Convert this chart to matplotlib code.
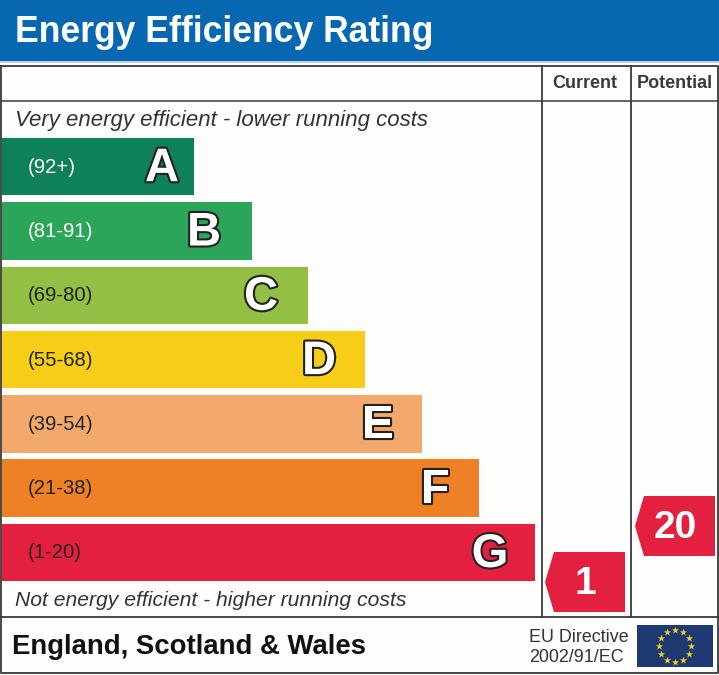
import numpy as np
import matplotlib
matplotlib.use("Agg")
import matplotlib.pyplot as plt
import matplotlib.patheffects as pe
from matplotlib.patches import Polygon, Rectangle

title = "Energy Efficiency Rating"
bands = ["A", "B", "C", "D", "E", "F", "G"]
ranges = ["(92+)", "(81-91)", "(69-80)", "(55-68)", "(39-54)", "(21-38)", "(1-20)"]
bar_lengths = [194, 252, 308, 365, 422, 479, 535]
bar_colors = ["#0f8158", "#2aa55a", "#93bf44", "#f6cd17", "#f3a96b", "#ee8126", "#e3203f"]
range_colors = ["white", "white", "#222222", "#222222", "#222222", "#222222", "#222222"]
letter_insets = [32, 48, 47, 46, 44, 44, 45]
current_score = 1
potential_score = 20

W, H = 719, 675
fig = plt.figure(figsize=(W / 100, H / 100), dpi=100, facecolor="#fdfdfc")
ax = fig.add_axes([0, 0, 1, 1])
ax.set_xlim(0, W)
ax.set_ylim(H, 0)
ax.axis("off")
FONT = "Liberation Sans"
DARK = "#3a3a3a"

# Header
ax.add_patch(Rectangle((0, 0), W, 61, fc="#0768b1", ec="none"))
ax.plot([0, W], [62, 62], color="#a9c8e2", lw=1.2)
ax.text(15, 32.5, title, color="white", fontsize=25.6, fontweight="bold", family=FONT,
        va="center", ha="left")

# Frame lines
ax.plot([0.5, 718, 718, 0.5, 0.5], [66, 66, 673, 673, 66], color=DARK, lw=1.3)
ax.plot([1, 718], [101, 101], color=DARK, lw=1.1)
ax.plot([1, 718], [617, 617], color=DARK, lw=1.3)
ax.plot([542, 542], [66, 617], color=DARK, lw=1.3)
ax.plot([631, 631], [66, 617], color=DARK, lw=1.3)

ax.text(585, 84, "Current", fontsize=13, fontweight="bold", family=FONT, color=DARK, ha="center", va="center")
ax.text(675, 84, "Potential", fontsize=13, fontweight="bold", family=FONT, color=DARK, ha="center", va="center")

ax.text(15, 120.5, "Very energy efficient - lower running costs", fontsize=16, style="italic",
        family=FONT, color="#333333", va="center", ha="left")
ax.text(15, 600.5, "Not energy efficient - higher running costs", fontsize=15.2, style="italic",
        family=FONT, color="#333333", va="center", ha="left")

# Bars
ys = 166.7 + 64.3 * np.arange(len(bands))
ax.barh(ys, np.array(bar_lengths) - 1.5, left=1.5, height=57.5, color=bar_colors, edgecolor="none")
for y, band, rng, rc, length, inset in zip(ys, bands, ranges, range_colors, bar_lengths, letter_insets):
    ax.text(28, y + 0.5, rng, color=rc, fontsize=14.6, family=FONT, va="center", ha="left")
    ax.text(length - inset, y + 2.5, band, color="white", fontsize=34, fontweight="bold", family=FONT,
            va="center", ha="center",
            path_effects=[pe.withStroke(linewidth=3, foreground="#222222")])

# Score arrows
def score_y(score):
    return 582 - (score - 1) * (56 / 19)

def arrow(x0, score):
    yc = score_y(score)
    pts = [(x0, yc), (x0 + 9, yc - 30), (x0 + 80, yc - 30), (x0 + 80, yc + 30), (x0 + 9, yc + 30)]
    ax.add_patch(Polygon(pts, closed=True, fc="#e3203f", ec="none"))
    ax.text(x0 + 40.5, yc + 2, str(score), color="white", fontsize=28, fontweight="bold", family=FONT,
            ha="center", va="center")

arrow(545, current_score)
arrow(635, potential_score)

# Footer
ax.text(12, 647, "England, Scotland & Wales", fontsize=19.8, fontweight="bold", family=FONT,
        color="#111111", va="center", ha="left")
ax.text(529, 637.5, "EU Directive", fontsize=12.85, family=FONT, color="#333333", va="center", ha="left")
ax.text(529, 658, "2002/91/EC", fontsize=12.85, family=FONT, color="#333333", va="center", ha="left")

# EU flag
ax.add_patch(Rectangle((637, 625), 76, 42, fc="#1f3a73", ec="none"))
a = np.deg2rad(np.arange(0, 360, 30))
ax.scatter(675 + 16 * np.sin(a), 646 - 16 * np.cos(a), marker="*", s=30, color="#f5d21f", linewidths=0)

fig.savefig("out.png", dpi=100, facecolor=fig.get_facecolor())
